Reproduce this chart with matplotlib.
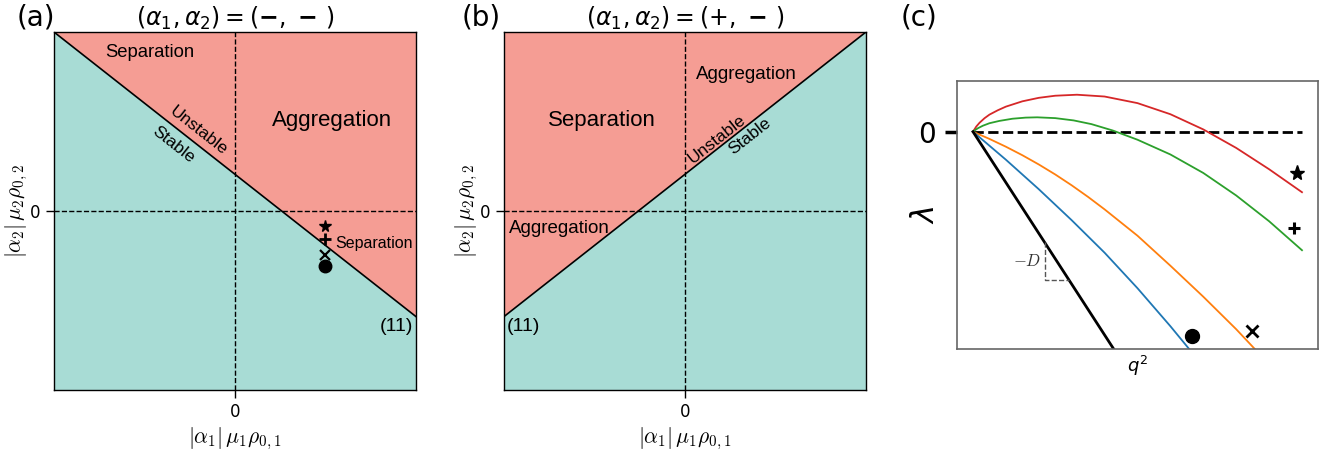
import numpy as np
import matplotlib
matplotlib.use("Agg")
import matplotlib.pyplot as plt

# ---------------- data ----------------
# panels (a),(b): boundary line (11) endpoints
line_x = [-1.0, 1.0]
line_y_a = [1.0, -0.59]
line_y_b = [-0.59, 1.0]

# panel (a) markers
mark_x_a = [0.5, 0.5, 0.5, 0.5]
mark_y_a = [-0.084, -0.156, -0.246, -0.307]
mark_symbols = ['*', '+', 'x', 'o']

# panel (c) curves (q^2, lambda)
red_q = [0, 0.01, 0.02, 0.035, 0.05, 0.075, 0.1, 0.15, 0.2, 0.25, 0.316, 0.4, 0.5, 0.6, 0.7, 0.8, 0.9, 1.0]
red_l = [0, 0.052, 0.09, 0.135, 0.171, 0.214, 0.251, 0.304, 0.339, 0.36, 0.37, 0.352, 0.286, 0.175,
         0.023, -0.162, -0.375, -0.605]
green_q = [0, 0.005, 0.015, 0.03, 0.05, 0.08, 0.12, 0.16, 0.195, 0.25, 0.306, 0.36, 0.425, 0.5,
           0.6, 0.7, 0.8, 0.9, 1.0]
green_l = [0, 0.013, 0.035, 0.06, 0.085, 0.108, 0.13, 0.141, 0.144, 0.136, 0.113, 0.076, 0.012,
           -0.08, -0.2275, -0.4125, -0.6375, -0.895, -1.185]
orange_q = [0, 0.025, 0.05, 0.1, 0.15, 0.2, 0.25, 0.3, 0.35, 0.4, 0.5, 0.6, 0.7, 0.8, 0.86]
orange_l = [0, -0.036, -0.072, -0.15, -0.235, -0.3275, -0.4275, -0.536, -0.6525, -0.7765, -1.04,
            -1.34, -1.65, -1.975, -2.185]
blue_q = [0, 0.05, 0.1, 0.2, 0.3, 0.4, 0.5, 0.6, 0.66]
blue_l = [0, -0.14, -0.28, -0.575, -0.885, -1.21, -1.565, -1.945, -2.185]
diff_q = [0, 0.43]
diff_l = [0, -2.185]

# panel (c) markers
mark_q_c = [0.984, 0.976, 0.849, 0.665]
mark_l_c = [-0.41, -0.966, -1.99, -2.043]

RED_FILL = '#f59d94'
GREEN_FILL = '#a8dcd5'
TXT = ['Liberation Sans', 'DejaVu Sans']

fig = plt.figure(figsize=(13.29, 4.54), dpi=100)

def phase_axes(rect, yline, title):
    ax = fig.add_axes(rect)
    xs = np.array(line_x)
    ys = np.array(yline)
    ax.fill_between(xs, ys, 5, color=RED_FILL, lw=0, zorder=0)
    ax.fill_between(xs, -5, ys, color=GREEN_FILL, lw=0, zorder=0)
    ax.plot(xs, ys, color='black', lw=1.2, zorder=2)
    ax.axhline(0, color='black', ls='--', lw=1.0, zorder=1)
    ax.axvline(0, color='black', ls='--', lw=1.0, zorder=1)
    ax.set_xlim(-1, 1)
    ax.set_ylim(-1, 1)
    ax.set_xticks([0])
    ax.set_yticks([0])
    ax.tick_params(labelsize=12, length=6, width=1)
    ax.set_xlabel(r'$|\alpha_1|\,\mu_1\rho_{0,1}$', fontsize=15.5, math_fontfamily='cm', labelpad=3)
    ax.set_ylabel(r'$|\alpha_2|\,\mu_2\rho_{0,2}$', fontsize=15.5, math_fontfamily='cm', labelpad=0)
    ax.set_title(title, fontsize=17, pad=4)
    for s in ax.spines.values():
        s.set_linewidth(1.0)
    return ax

W = 0.2724
axA = phase_axes([0.0406, 0.1410, W, 0.7885], line_y_a, r'$(\alpha_1, \alpha_2) = (\mathbf{-},\ \mathbf{-}\ )$')
axB = phase_axes([0.3792, 0.1410, W, 0.7885], line_y_b, r'$(\alpha_1, \alpha_2) = (+,\ \mathbf{-}\ )$')

# panel (a) texts
axA.text(-0.47, 0.883, 'Separation', fontsize=13.3, family=TXT, ha='center', va='center')
axA.text(0.536, 0.508, 'Aggregation', fontsize=16, family=TXT, ha='center', va='center')
axA.text(-0.202, 0.448, 'Unstable', fontsize=12.5, family=TXT, ha='center', va='center',
         rotation=-38.2, rotation_mode='anchor')
axA.text(-0.341, 0.369, 'Stable', fontsize=12.5, family=TXT, ha='center', va='center',
         rotation=-38.2, rotation_mode='anchor')
axA.text(0.77, -0.184, 'Separation', fontsize=11.5, family=TXT, ha='center', va='center')
axA.text(0.985, -0.645, '(11)', fontsize=14, family=TXT, ha='right', va='center')
ms = {'*': (8.5, 1), '+': (9, 2), 'x': (7, 1.6), 'o': (9, 1)}
for x, y, m in zip(mark_x_a, mark_y_a, mark_symbols):
    axA.plot([x], [y], marker=m, color='black', ms=ms[m][0], mew=ms[m][1], ls='none', zorder=3)

# panel (b) texts
axB.text(-0.459, 0.503, 'Separation', fontsize=16, family=TXT, ha='center', va='center')
axB.text(0.337, 0.765, 'Aggregation', fontsize=13.5, family=TXT, ha='center', va='center')
axB.text(-0.691, -0.095, 'Aggregation', fontsize=13.5, family=TXT, ha='center', va='center')
axB.text(0.175, 0.40, 'Unstable', fontsize=12.5, family=TXT, ha='center', va='center',
         rotation=38.2, rotation_mode='anchor')
axB.text(0.36, 0.42, 'Stable', fontsize=12.5, family=TXT, ha='center', va='center',
         rotation=38.2, rotation_mode='anchor')
axB.text(-0.985, -0.645, '(11)', fontsize=14, family=TXT, ha='left', va='center')

# panel (c)
axC = fig.add_axes([0.7201, 0.2306, 0.2716, 0.5916])
axC.plot([0, 1.0], [0, 0], color='black', ls='--', lw=2.0, zorder=1)
axC.plot(red_q, red_l, color='tab:red', lw=1.3)
axC.plot(green_q, green_l, color='tab:green', lw=1.3)
axC.plot(orange_q, orange_l, color='tab:orange', lw=1.3)
axC.plot(blue_q, blue_l, color='tab:blue', lw=1.3)
axC.plot(diff_q, diff_l, color='black', lw=2.0)
# slope triangle for -D
xa, xb = 0.218, 0.291
slope = diff_l[1] / diff_q[1]
axC.plot([xa, xa, xb], [slope * xa, slope * xb, slope * xb], color='#555555', ls='--', lw=1.0)
axC.text(xa - 0.01, slope * (xa + xb) / 2, r'$-D$', fontsize=12, math_fontfamily='cm',
         color='#333333', ha='right', va='center')
csz = {'*': (11, 1), '+': (9, 2.2), 'x': (8, 2), 'o': (10, 1)}
for x, y, m in zip(mark_q_c, mark_l_c, mark_symbols):
    axC.plot([x], [y], marker=m, color='black', ms=csz[m][0], mew=csz[m][1], ls='none')
axC.set_xlim(-0.0486, 1.0486)
axC.set_ylim(-2.176, 0.51)
axC.set_xticks([])
axC.set_yticks([0])
axC.tick_params(axis='y', labelsize=20, length=8.5, width=2.5, pad=7)
axC.set_ylabel(r'$\lambda$', fontsize=22)
axC.yaxis.set_label_coords(-0.047, 0.5)
axC.set_xlabel(r'$q^2$', fontsize=13, labelpad=3)
for s in axC.spines.values():
    s.set_color('#666666')
    s.set_linewidth(1.2)

# panel letters
fig.text(0.0125, 0.962, '(a)', fontsize=20, va='center', ha='left')
fig.text(0.347, 0.962, '(b)', fontsize=20, va='center', ha='left')
fig.text(0.678, 0.962, '(c)', fontsize=20, va='center', ha='left')

fig.savefig('out.png', dpi=100)
